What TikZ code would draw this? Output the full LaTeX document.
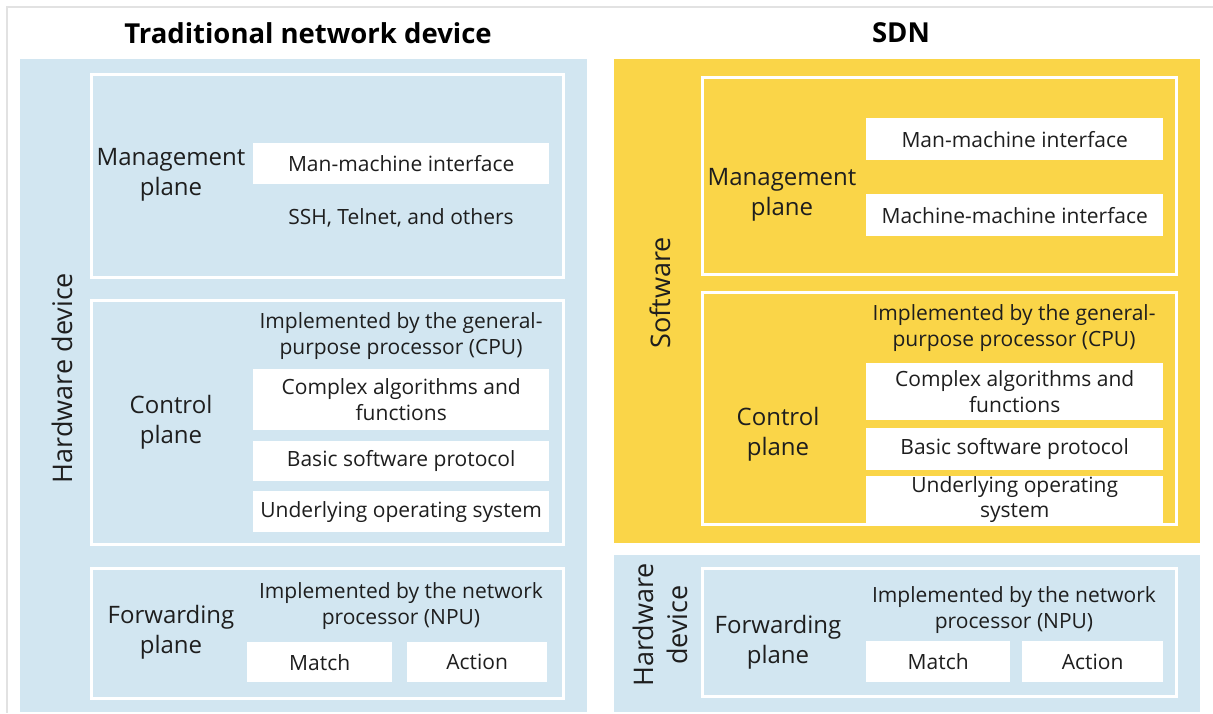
\documentclass[tikz,border=0pt]{standalone}
\usepackage{fontspec}
\setmainfont{Open Sans}
\usepackage{tikz}
\usetikzlibrary{positioning}
\usepackage{xcolor}

\definecolor{hwblue}{RGB}{210,230,241}
\definecolor{swyellow}{RGB}{250,213,72}
\definecolor{txtgray}{RGB}{30,30,30}
\definecolor{edgegray}{RGB}{226,226,226}

\newcommand{\itemfont}{\fontsize{21}{25.5}\selectfont}
\newcommand{\planefont}{\fontsize{24}{30}\selectfont}
\newcommand{\sidefont}{\fontsize{27}{34}\selectfont}
\newcommand{\titlefont}{\fontsize{27.5}{32}\selectfont\bfseries}

\tikzset{
  panel/.style={anchor=north west, inner sep=0pt, draw=none},
  planebox/.style={anchor=north west, inner sep=0pt, draw=white, line width=2.5pt},
  itembox/.style={anchor=north west, inner sep=0pt, fill=white, align=center, font=\itemfont, text=txtgray},
  note/.style={align=center, font=\itemfont, text=txtgray},
  planelabel/.style={align=center, font=\planefont, text=txtgray},
  sidelabel/.style={align=center, font=\sidefont, text=txtgray, rotate=90},
}

\begin{document}
\begin{tikzpicture}[x=1pt, y=-1pt]
    \useasboundingbox (0,0) rectangle (1213,713);
    \fill[white] (0,0) rectangle (1213,713);
    \draw[edgegray, line width=2pt] (1213,7) -- (7,7) -- (7,713);

    % Traditional network device
    \node[font=\titlefont, text=black] (ltitle) at (308,33) {Traditional network device};
    \node[panel, fill=hwblue, minimum width=567pt, minimum height=653pt] (lhw) at (20,59) {};
    \node[sidelabel] (lhwlbl) at (62,378) {Hardware device};

    \node[planebox, minimum width=472pt, minimum height=203pt] (lmgmt) at (90,73) {};
    \node[planelabel] (lmgmtlbl) at (171,175) {Management\\plane};
    \node[itembox, minimum width=296pt, minimum height=41pt] (lmmi) at (253,143) {Man-machine interface};
    \node[note] (lssh) at (401,218) {SSH, Telnet, and others};

    \node[planebox, minimum width=472pt, minimum height=244pt] (lctrl) at (90,299) {};
    \node[planelabel] (lctrllbl) at (171,422) {Control\\plane};
    \node[note] (lcpu) at (401,336) {Implemented by the general-\\purpose processor (CPU)};
    \node[itembox, minimum width=296pt, minimum height=61pt] (lalgo) at (253,369) {Complex algorithms and\\functions};
    \node[itembox, minimum width=296pt, minimum height=40pt] (lproto) at (253,441) {Basic software protocol};
    \node[itembox, minimum width=296pt, minimum height=41pt] (los) at (253,491) {Underlying operating system};

    \node[planebox, minimum width=472pt, minimum height=130pt] (lfwd) at (90,567) {};
    \node[planelabel] (lfwdlbl) at (171,632) {Forwarding\\plane};
    \node[note] (lnpu) at (401,606) {Implemented by the network\\processor (NPU)};
    \node[itembox, minimum width=145pt, minimum height=40pt] (lmatch) at (247,642) {Match};
    \node[itembox, minimum width=140pt, minimum height=40pt] (laction) at (407,642) {Action};

    % SDN
    \node[font=\titlefont, text=black] (rtitle) at (901,33) {SDN};
    \node[panel, fill=swyellow, minimum width=586pt, minimum height=484pt] (rsw) at (614,59) {};
    \node[sidelabel] (rswlbl) at (660,293) {Software};

    \node[planebox, minimum width=474pt, minimum height=197pt] (rmgmt) at (701,76) {};
    \node[planelabel] (rmgmtlbl) at (782,195) {Management\\plane};
    \node[itembox, minimum width=297pt, minimum height=42pt] (rmmi) at (866,118) {Man-machine interface};
    \node[itembox, minimum width=297pt, minimum height=42pt] (rm2m) at (866,194) {Machine-machine interface};

    \node[planebox, minimum width=474pt, minimum height=232pt] (rctrl) at (701,291) {};
    \node[planelabel] (rctrllbl) at (778,434) {Control\\plane};
    \node[note] (rcpu) at (1014,328) {Implemented by the general-\\purpose processor (CPU)};
    \node[itembox, minimum width=297pt, minimum height=57pt] (ralgo) at (866,363) {Complex algorithms and\\functions};
    \node[itembox, minimum width=297pt, minimum height=42pt] (rproto) at (866,428) {Basic software protocol};
    \node[itembox, minimum width=297pt, minimum height=41pt] (ros) at (866,476) {Underlying operating\\system};

    \node[panel, fill=hwblue, minimum width=586pt, minimum height=157pt] (rhw) at (614,555) {};
    \node[sidelabel] (rhwlbl) at (660,625) {Hardware\\device};

    \node[planebox, minimum width=474pt, minimum height=128pt] (rfwd) at (701,567) {};
    \node[planelabel] (rfwdlbl) at (778,642) {Forwarding\\plane};
    \node[note] (rnpu) at (1014,610) {Implemented by the network\\processor (NPU)};
    \node[itembox, minimum width=144pt, minimum height=41pt] (rmatch) at (866,641) {Match};
    \node[itembox, minimum width=141pt, minimum height=41pt] (raction) at (1022,641) {Action};
\end{tikzpicture}
\end{document}
